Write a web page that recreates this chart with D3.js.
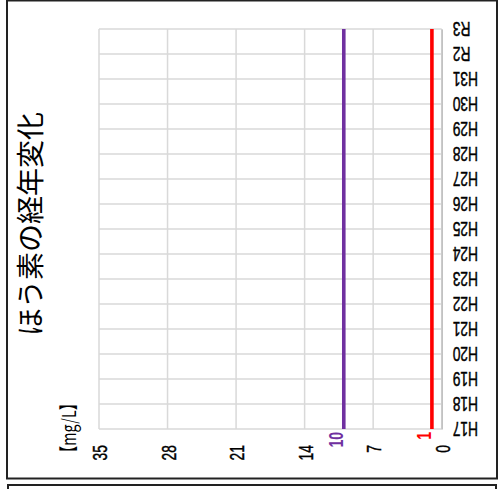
<!DOCTYPE html>
<html>
<head>
<meta charset="utf-8">
<script src="https://cdn.jsdelivr.net/npm/d3@7"></script>
<style>
  html, body { margin: 0; padding: 0; background: #fff; }
  svg { display: block; }
</style>
</head>
<body>
<svg id="chart" width="500" height="489"></svg>
<script>
const categories = ["H17","H18","H19","H20","H21","H22","H23","H24","H25","H26","H27","H28","H29","H30","H31","R2","R3"];
const standardValues = [10,10,10,10,10,10,10,10,10,10,10,10,10,10,10,10,10];
const limitValues = [1,1,1,1,1,1,1,1,1,1,1,1,1,1,1,1,1];
const valueTicks = [0,7,14,21,28,35];
const titleText = "ほう素の経年変化";
const unitText = "【mg/L】";

const svg = d3.select("#chart");
const latin = "'Liberation Sans', Arial, sans-serif";
const cjk = "'Noto Sans CJK JP', 'Noto Sans', sans-serif";
const squeeze = 0.66;
const tickFont = 21;

// outer frames
svg.append("rect").attr("x", 7).attr("y", 0.5).attr("width", 490).attr("height", 478)
  .attr("fill", "#fff").attr("stroke", "#222").attr("stroke-width", 2);
svg.append("rect").attr("x", 8).attr("y", 485).attr("width", 488).attr("height", 20)
  .attr("fill", "#fff").attr("stroke", "#222").attr("stroke-width", 2);

// scales (chart is drawn rotated: categories run bottom->top, values right->left)
const y = d3.scalePoint().domain(categories).range([429, 29]);
const x = d3.scaleLinear().domain([0, 35]).range([441.7, 99]);

// value gridlines
svg.append("g").selectAll("line").data(valueTicks).join("line")
  .attr("x1", d => x(d)).attr("x2", d => x(d))
  .attr("y1", y.range()[0]).attr("y2", y.range()[1])
  .attr("stroke", "#d9d9d9").attr("stroke-width", 1.5);
// category gridlines
svg.append("g").selectAll("line").data(categories).join("line")
  .attr("x1", x(35)).attr("x2", x(0))
  .attr("y1", d => y(d)).attr("y2", d => y(d))
  .attr("stroke", "#d9d9d9").attr("stroke-width", 1.5);

// category axis (right side, labels upside-down)
const catAxis = svg.append("g").attr("transform", `translate(${x(0)},0)`)
  .call(d3.axisRight(y).tickSize(0).tickPadding(0))
  .attr("font-size", tickFont).attr("font-family", latin);
catAxis.select(".domain").attr("stroke", "#bfbfbf").attr("stroke-width", 1.5);
catAxis.selectAll("text")
  .attr("x", null).attr("dy", "0.36em")
  .attr("text-anchor", "end")
  .attr("transform", `translate(11,0) rotate(180) scale(${squeeze},1)`)
  .style("font-size", tickFont + "px").attr("fill", "#000")
  .attr("stroke", "#000").attr("stroke-width", 0.45);

// value axis (bottom, labels rotated)
const valAxis = svg.append("g").attr("transform", `translate(0,${y.range()[0]})`)
  .call(d3.axisBottom(x).tickValues(valueTicks).tickSize(0).tickPadding(0))
  .attr("font-size", tickFont).attr("font-family", latin);
valAxis.select(".domain").remove();
valAxis.selectAll("text")
  .attr("y", 0).attr("x", 0).attr("dy", "0.36em")
  .attr("text-anchor", "end")
  .attr("transform", `translate(0,16) rotate(-90) scale(${squeeze},1)`)
  .style("font-size", tickFont + "px").attr("fill", "#000")
  .attr("stroke", "#000").attr("stroke-width", 0.45);

// lines
const line = d3.line().x(d => x(d.v)).y(d => y(d.c));
const series = [
  { values: standardValues, color: "#7030A0" },
  { values: limitValues, color: "#FF0000" }
];
series.forEach(s => {
  const pts = s.values.map((v, i) => ({ c: categories[i], v }));
  svg.append("path").datum(pts).attr("d", line)
    .attr("fill", "none").attr("stroke", s.color).attr("stroke-width", 3.6);
  // data label at first point
  svg.append("text")
    .attr("transform", `translate(${x(pts[0].v) - 8},${y(pts[0].c) + 3}) rotate(-90) scale(0.7,1)`)
    .attr("dy", "0.36em").attr("text-anchor", "end")
    .attr("font-family", latin).attr("font-size", 20).attr("font-weight", "bold")
    .attr("fill", s.color).text(String(pts[0].v));
});

// title
svg.append("text")
  .attr("transform", "translate(31,224) rotate(-90)")
  .attr("dy", "0.35em").attr("text-anchor", "middle")
  .attr("font-family", cjk).attr("font-size", 28).attr("fill", "#000")
  .text(titleText);

// unit
svg.append("text")
  .attr("transform", "translate(69,428) rotate(-90) scale(0.75,1)")
  .attr("dy", "0.35em").attr("text-anchor", "middle")
  .attr("font-family", cjk).attr("font-size", 19).attr("fill", "#000")
  .text(unitText);
</script>
</body>
</html>
